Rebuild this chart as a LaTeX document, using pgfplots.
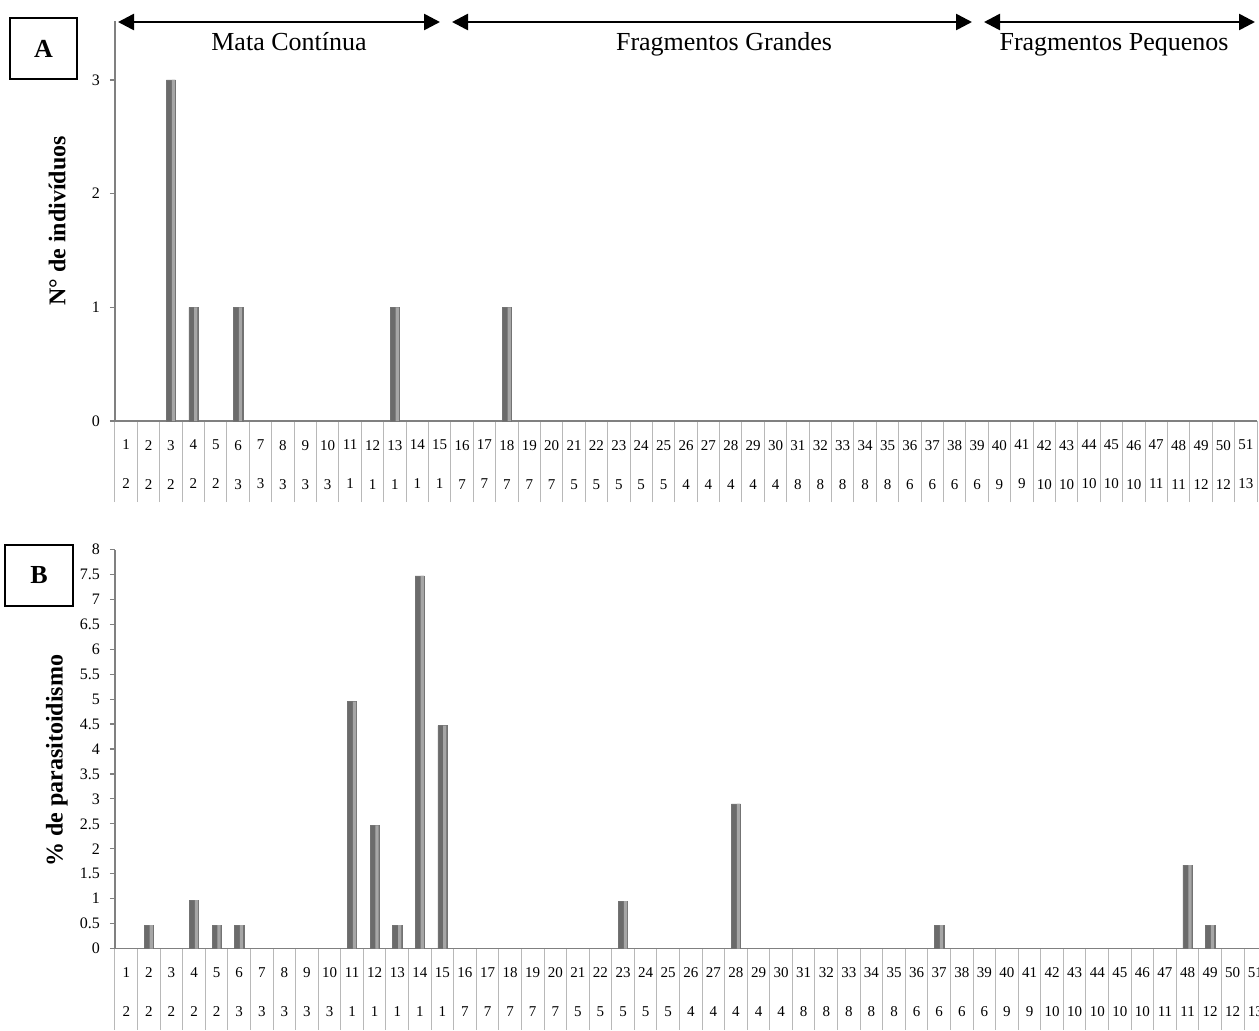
\documentclass[border=0pt]{standalone}
\usepackage{fontspec}
\setmainfont{Liberation Serif}
\usepackage{pgfplots}
\pgfplotsset{compat=1.18}
\usepackage{pgfplotstable}
\usetikzlibrary{arrows.meta}

\pgfplotstableread{
cat A B
1 0 0
2 0 0.47
3 3 0
4 1 0.97
5 0 0.47
6 1 0.47
7 0 0
8 0 0
9 0 0
10 0 0
11 0 4.95
12 0 2.47
13 1 0.47
14 0 7.47
15 0 4.47
16 0 0
17 0 0
18 1 0
19 0 0
20 0 0
21 0 0
22 0 0
23 0 0.95
24 0 0
25 0 0
26 0 0
27 0 0
28 0 2.9
29 0 0
30 0 0
31 0 0
32 0 0
33 0 0
34 0 0
35 0 0
36 0 0
37 0 0.47
38 0 0
39 0 0
40 0 0
41 0 0
42 0 0
43 0 0
44 0 0
45 0 0
46 0 0
47 0 0
48 0 1.67
49 0 0.47
50 0 0
51 0 0
}\data

\pgfplotsset{
 panel/.style={
  scale only axis,
  axis x line*=bottom, axis y line*=left,
  xmin=0.5, xmax=51.5,
  ymin=0,
  xtick={1,...,51},
  minor xtick={0.5,1.5,...,51.5},
  minor tick length=40.5pt,
  major tick length=2.5pt,
  tick align=outside,
  axis line style={black!50, line width=0.9pt},
  tick style={black!50, line width=0.6pt},
  major x tick style={draw=none},
  minor x tick style={draw=black!28, line width=0.5pt},
  xticklabels={{1\\2},{2\\2},{3\\2},{4\\2},{5\\2},{6\\3},{7\\3},{8\\3},{9\\3},{10\\3},
   {11\\1},{12\\1},{13\\1},{14\\1},{15\\1},{16\\7},{17\\7},{18\\7},{19\\7},{20\\7},
   {21\\5},{22\\5},{23\\5},{24\\5},{25\\5},{26\\4},{27\\4},{28\\4},{29\\4},{30\\4},
   {31\\8},{32\\8},{33\\8},{34\\8},{35\\8},{36\\6},{37\\6},{38\\6},{39\\6},{40\\9},
   {41\\9},{42\\10},{43\\10},{44\\10},{45\\10},{46\\10},{47\\11},{48\\11},{49\\12},{50\\12},{51\\13}},
  xticklabel style={align=center, font=\fontsize{7.5}{19.5}\selectfont, yshift=-3.5pt},
  yticklabel style={font=\fontsize{8}{9}\selectfont, xshift=-1.5pt},
  /pgf/number format/assume math mode=true,
  clip=false,
 },
 cylA/.style={ybar, bar width=4.6pt, bar shift=0pt, draw=black!55, line width=0.2pt,
  fill=black!58, restrict y to domain=0.01:100},
 cylB/.style={ybar, bar width=1.6pt, bar shift=1.2pt, draw=none,
  fill=black!35, restrict y to domain=0.01:100}
}

\begin{document}
\begin{tikzpicture}
\begin{axis}[panel,
  at={(57.5pt,-210.5pt)}, anchor=south west,
  width=571pt, height=200pt,
  ymax=3.518, ytick={0,1,2,3},
  ylabel={N° de indivíduos},
  ylabel style={font=\fontsize{12}{14}\selectfont\bfseries, at={(axis description cs:-0.0507,0.5)}, anchor=center},
]
\addplot[cylA] table[x=cat, y=A] {\data};
\addplot[cylB] table[x=cat, y=A] {\data};
\end{axis}

\begin{axis}[panel,
  at={(57.5pt,-474.25pt)}, anchor=south west,
  width=575.8pt, height=199.5pt,
  ymax=8, ytick={0,0.5,...,8},
  ylabel={\% de parasitoidismo},
  ylabel style={font=\fontsize{12}{14}\selectfont\bfseries, at={(axis description cs:-0.0504,0.47)}, anchor=center},
]
\addplot[cylA] table[x=cat, y=B] {\data};
\addplot[cylB] table[x=cat, y=B] {\data};
\end{axis}

\begin{scope}[x=0.5pt, y=-0.5pt]
\draw[line width=1.3pt, {Triangle[length=8pt,width=8pt]}-{Triangle[length=8pt,width=8pt]}] (118,22) -- (440,22);
\draw[line width=1.3pt, {Triangle[length=8pt,width=8pt]}-{Triangle[length=8pt,width=8pt]}] (452,22) -- (972,22);
\draw[line width=1.3pt, {Triangle[length=8pt,width=8pt]}-{Triangle[length=8pt,width=8pt]}] (984,22) -- (1255,22);
\node[anchor=base, font=\fontsize{13}{15}\selectfont] at (289,50) {Mata Contínua};
\node[anchor=base, font=\fontsize{13}{15}\selectfont] at (724,50) {Fragmentos Grandes};
\node[anchor=base, font=\fontsize{13}{15}\selectfont] at (1114,50) {Fragmentos Pequenos};
\draw[line width=1pt] (10,18) rectangle (77,79);
\node[font=\fontsize{13}{15}\selectfont\bfseries] at (43.5,48.5) {A};
\draw[line width=1pt] (5,545) rectangle (73,606);
\node[font=\fontsize{13}{15}\selectfont\bfseries] at (39,575.5) {B};
\end{scope}

\pgfresetboundingbox
\path[use as bounding box] (0pt,0pt) rectangle (629.5pt,-515pt);
\end{tikzpicture}
\end{document}
